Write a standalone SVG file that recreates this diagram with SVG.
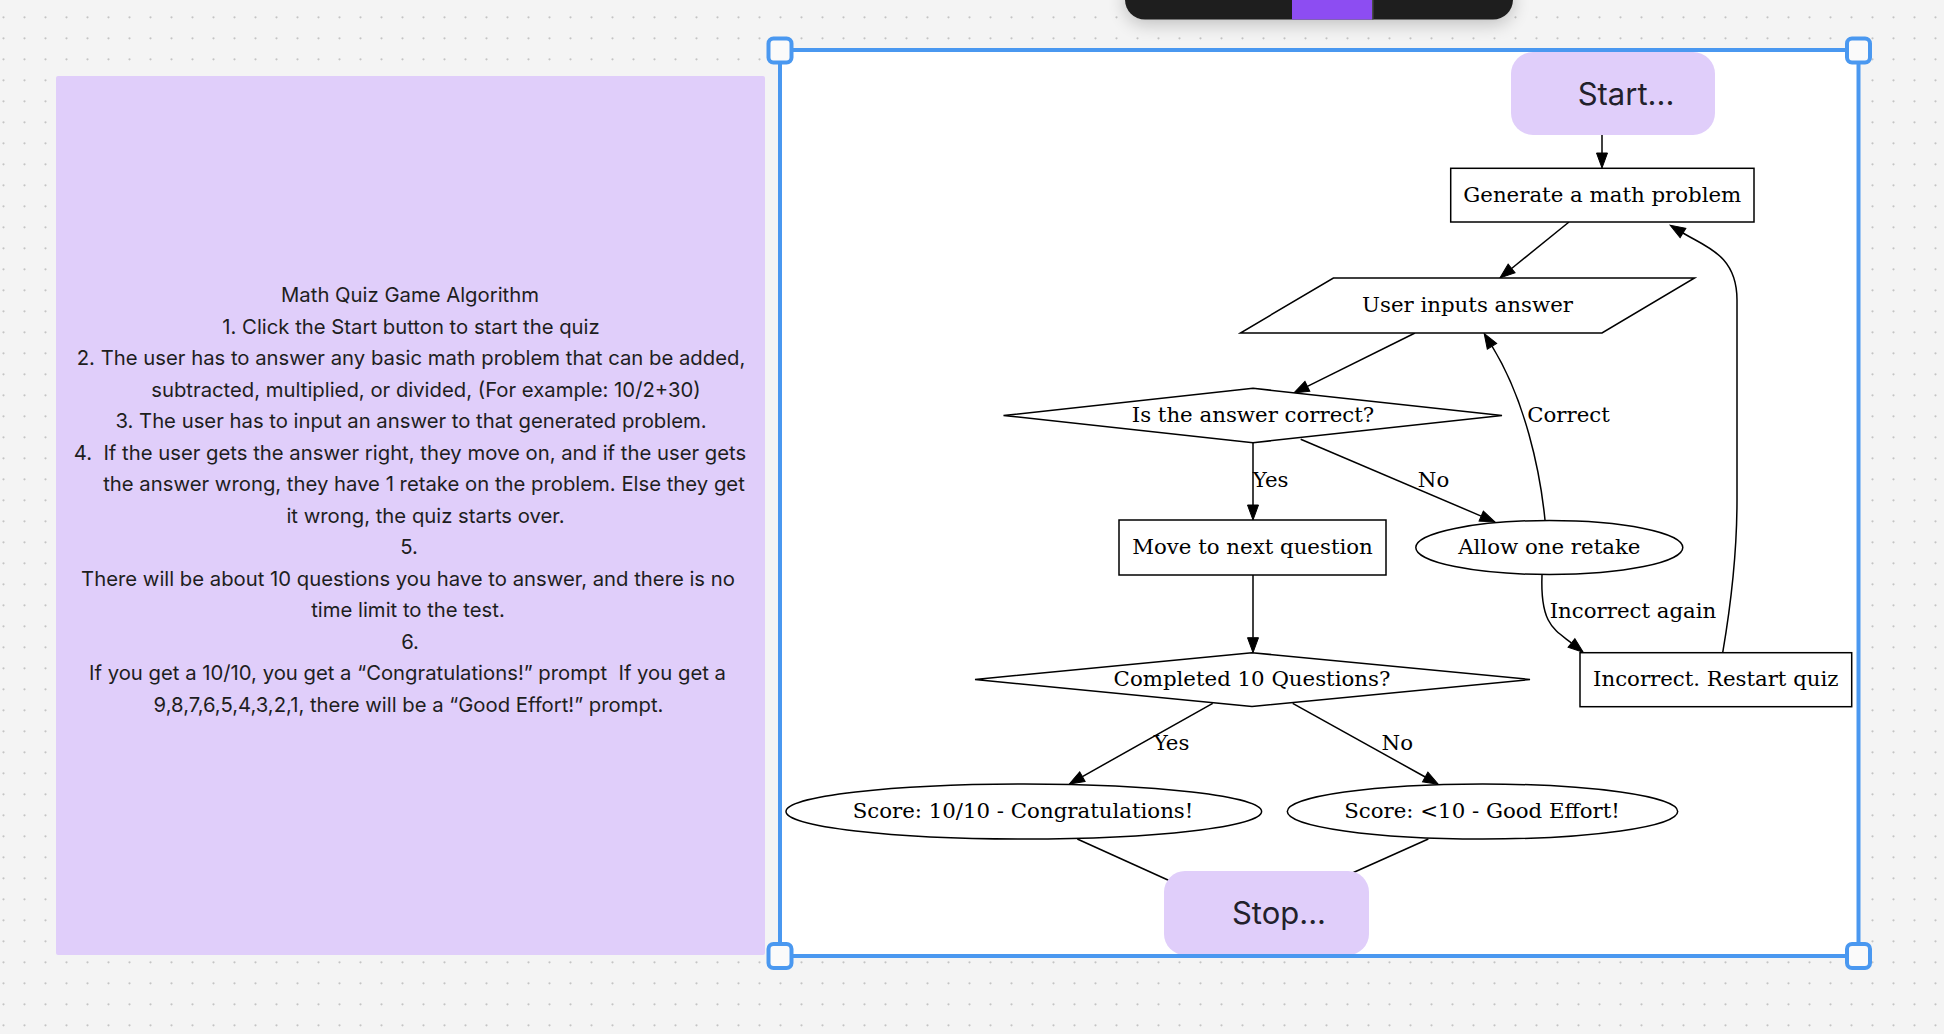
<svg xmlns="http://www.w3.org/2000/svg" width="1944" height="1034" viewBox="0 0 1944 1034">
<defs>
<pattern id="dots" x="0" y="0" width="21" height="21" patternUnits="userSpaceOnUse">
<circle cx="3.5" cy="17.3" r="1.1" fill="#c4c4c4"/>
</pattern>
<marker id="ah" markerUnits="userSpaceOnUse" markerWidth="16" markerHeight="12" refX="0" refY="5.5" orient="auto" overflow="visible">
<path d="M0,0 L15,5.5 L0,11 Z" fill="#000" stroke="#000" stroke-width="1"/>
</marker>
<filter id="sh" x="-20%" y="-100%" width="140%" height="400%">
<feGaussianBlur stdDeviation="9"/>
</filter>
<style>
.note{font-family:Inter,"Noto Sans","Liberation Sans",sans-serif;font-size:20.3px;fill:#1e1e1e;text-anchor:middle}
.gv{font-family:"DejaVu Serif","Liberation Serif",serif;font-size:21.3px;fill:#000;text-anchor:middle}
.shape{fill:#fff;stroke:#000;stroke-width:1.5}
.edge{fill:none;stroke:#000;stroke-width:1.5}
.term{fill:#e0cefa}
.termtxt{font-family:Inter,"Noto Sans","Liberation Sans",sans-serif;font-size:31px;fill:#22212b;text-anchor:middle}
.handle{fill:#fafafa;stroke:#4a98f0;stroke-width:4}
</style>
</defs>

<rect x="0" y="0" width="1944" height="1034" fill="#f4f4f4"/>
<rect x="0" y="0" width="1944" height="1034" fill="url(#dots)"/>

<g id="note">
<rect x="56" y="76" width="709" height="879" rx="2" fill="#e0cefa"/>
<text class="note" x="410" y="302">Math Quiz Game Algorithm</text>
<text class="note" x="411" y="333.5">1. Click the Start button to start the quiz</text>
<text class="note" x="411" y="365">2. The user has to answer any basic math problem that can be added,</text>
<text class="note" x="426" y="396.5">subtracted, multiplied, or divided, (For example: 10/2+30)</text>
<text class="note" x="411" y="428">3. The user has to input an answer to that generated problem.</text>
<text class="note" x="410" y="459.5" xml:space="preserve">4.  If the user gets the answer right, they move on, and if the user gets</text>
<text class="note" x="424" y="491">the answer wrong, they have 1 retake on the problem. Else they get</text>
<text class="note" x="425.5" y="522.5">it wrong, the quiz starts over.</text>
<text class="note" x="409" y="554">5.</text>
<text class="note" x="408" y="585.5">There will be about 10 questions you have to answer, and there is no</text>
<text class="note" x="408" y="617">time limit to the test.</text>
<text class="note" x="410" y="648.5">6.</text>
<text class="note" x="407.5" y="680" xml:space="preserve">If you get a 10/10, you get a “Congratulations!” prompt  If you get a</text>
<text class="note" x="408.5" y="711.5">9,8,7,6,5,4,3,2,1, there will be a “Good Effort!” prompt.</text>
</g>

<g id="frame-bg">
<rect x="780" y="50" width="1078.5" height="906" fill="#fff"/>
</g>

<g id="toolbar-shadow">
<rect x="1125" y="-20" width="388" height="44" rx="20" fill="#000" opacity="0.22" filter="url(#sh)"/>
</g>

<g id="connectors">
<path class="edge" d="M1602,134 L1602,153" marker-end="url(#ah)"/>
<path class="edge" d="M1569,222 L1511.6,268.5" marker-end="url(#ah)"/>
<path class="edge" d="M1415,333 L1307.4,386.3" marker-end="url(#ah)"/>
<path class="edge" d="M1253,443 L1253,505" marker-end="url(#ah)"/>
<path class="edge" d="M1300.7,439.3 L1481.2,516.1" marker-end="url(#ah)"/>
<path class="edge" d="M1545,520 C1540,470 1525,400 1492,346.2" marker-end="url(#ah)"/>
<path class="edge" d="M1722.7,652.7 C1730,610 1737,560 1737,500 L1737,300 C1737,255 1706,247 1683,233" marker-end="url(#ah)"/>
<path class="edge" d="M1542,575 C1540,625 1555,630 1571.5,643" marker-end="url(#ah)"/>
<path class="edge" d="M1253,575 L1253,637.7" marker-end="url(#ah)"/>
<path class="edge" d="M1212.7,703.3 L1082.4,776.6" marker-end="url(#ah)"/>
<path class="edge" d="M1292.7,703.3 L1425.2,777" marker-end="url(#ah)"/>
<path class="edge" d="M1077.3,839 L1190,890"/>
<path class="edge" d="M1428.3,839 L1330,883"/>
<text class="gv" x="1568.5" y="421.7">Correct</text>
<text class="gv" x="1270.7" y="487.3">Yes</text>
<text class="gv" x="1433.5" y="487.3">No</text>
<text class="gv" x="1633" y="618.3">Incorrect again</text>
<text class="gv" x="1171.5" y="750">Yes</text>
<text class="gv" x="1397.3" y="750">No</text>
</g>

<g id="generate">
<rect class="shape" x="1450.7" y="168.3" width="303.3" height="53.7"/>
<text class="gv" x="1602.3" y="201.5">Generate a math problem</text>
</g>
<g id="user-inputs">
<polygon class="shape" points="1333.4,278 1694.6,278 1602,333 1240.4,333"/>
<text class="gv" x="1467.5" y="311.8">User inputs answer</text>
</g>
<g id="is-correct">
<polygon class="shape" points="1253,388.3 1502,415.5 1253,442.7 1003.5,415.5"/>
<text class="gv" x="1253" y="421.8">Is the answer correct?</text>
</g>
<g id="move-next">
<rect class="shape" x="1119" y="520" width="267" height="55"/>
<text class="gv" x="1252.5" y="553.8">Move to next question</text>
</g>
<g id="allow-retake">
<ellipse class="shape" cx="1549.3" cy="547.5" rx="133.5" ry="27"/>
<text class="gv" x="1549.3" y="553.8">Allow one retake</text>
</g>
<g id="restart">
<rect class="shape" x="1580" y="652.7" width="271.7" height="54"/>
<text class="gv" x="1715.8" y="686">Incorrect. Restart quiz</text>
</g>
<g id="completed">
<polygon class="shape" points="1252,652.7 1530,679.5 1252,706.5 975,679.5"/>
<text class="gv" x="1252" y="685.8">Completed 10 Questions?</text>
</g>
<g id="score-10">
<ellipse class="shape" cx="1023.8" cy="811.5" rx="237.8" ry="27.5"/>
<text class="gv" x="1023" y="817.8">Score: 10/10 - Congratulations!</text>
</g>
<g id="score-lt10">
<ellipse class="shape" cx="1482.5" cy="811.5" rx="195.2" ry="27.5"/>
<text class="gv" x="1482" y="817.8">Score: &lt;10 - Good Effort!</text>
</g>

<g id="start">
<rect class="term" x="1511" y="52" width="204" height="83" rx="22"/>
<text class="termtxt" x="1626" y="105">Start...</text>
</g>
<g id="stop">
<rect class="term" x="1164" y="871" width="205" height="84" rx="21"/>
<text class="termtxt" x="1279" y="924">Stop...</text>
</g>

<g id="frame">
<rect x="780" y="50" width="1078.5" height="906" fill="none" stroke="#4a98f0" stroke-width="4"/>
<rect class="handle" x="768.5" y="38.5" width="23" height="24" rx="5"/>
<rect class="handle" x="1847" y="38.5" width="23" height="24" rx="5"/>
<rect class="handle" x="768.5" y="944" width="23" height="24" rx="5"/>
<rect class="handle" x="1847" y="944" width="23" height="24" rx="5"/>
</g>

<g id="toolbar">
<rect x="1125" y="-30" width="388" height="49.5" rx="20" fill="#1e1e1e"/>
<rect x="1292" y="0" width="80" height="19.5" fill="#8d4df2"/>
<rect x="1372" y="0" width="1.5" height="19.5" fill="#4a4a4a"/>
</g>
</svg>
